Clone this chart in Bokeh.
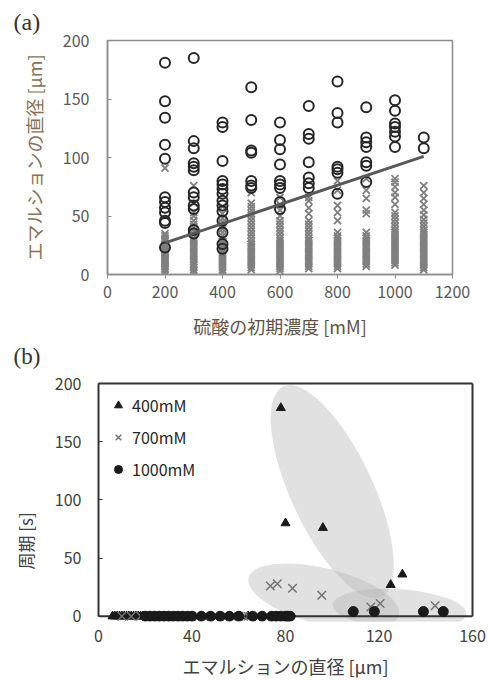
from bokeh.plotting import figure
from bokeh.models import Range1d, FixedTicker, Legend, LegendItem, Title, LinearAxis
from bokeh.embed import file_html
from bokeh.resources import INLINE

# ---------------- panel (a) data ----------------
conc = [200, 300, 400, 500, 600, 700, 800, 900, 1000, 1100]
a_x_ticks = [0, 200, 400, 600, 800, 1000, 1200]
a_y_ticks = [0, 50, 100, 150, 200]

circ_200 = [181, 148, 134, 111, 99, 66, 62, 57, 53, 46, 44, 23]
circ_300 = [185, 114, 108, 95, 92, 89, 70, 66, 59, 56, 38, 35]
circ_400 = [130, 126, 97, 80, 77, 73, 69, 63, 59, 54, 46, 36, 26, 22]
circ_500 = [160, 132, 106, 104, 80, 76, 74]
circ_600 = [130, 115, 107, 94, 80, 77, 74, 62, 56]
circ_700 = [144, 120, 116, 96, 83, 78, 74]
circ_800 = [165, 138, 130, 92, 90, 87, 69]
circ_900 = [143, 117, 113, 109, 96, 93, 79]
circ_1000 = [149, 140, 129, 126, 122, 118, 109]
circ_1100 = [117, 108]

crs_200 = [2, 4, 5, 7, 8, 10, 11, 13, 14, 16, 17, 19, 20, 22, 23, 25, 26, 28, 29, 31, 33, 35, 91]
crs_300 = [2, 4, 6, 8, 9, 11, 13, 15, 17, 19, 21, 23, 25, 27, 29, 31, 34, 37, 40, 43, 46, 50, 53, 61, 76]
crs_400 = [2, 4, 6, 8, 10, 12, 14, 16, 18, 20, 22, 24, 26, 28, 30, 33, 36, 39, 42, 45, 48, 52, 58]
crs_500 = [4, 6, 8, 10, 12, 14, 16, 18, 20, 22, 24, 26, 28, 31, 34, 37, 40, 43, 46, 49, 52, 55, 58, 61, 70]
crs_600 = [3, 5, 7, 9, 11, 13, 15, 17, 19, 21, 23, 25, 27, 29, 31, 34, 37, 40, 43, 46, 50, 55, 60, 66]
crs_700 = [5, 7, 9, 11, 13, 15, 17, 19, 21, 23, 25, 27, 29, 31, 34, 37, 40, 43, 46, 52, 57, 63, 66]
crs_800 = [5, 7, 9, 11, 13, 15, 17, 19, 21, 23, 25, 27, 29, 31, 33, 36, 46, 53, 59, 72, 80]
crs_900 = [7, 9, 11, 13, 15, 17, 19, 21, 23, 25, 27, 29, 31, 33, 36, 52, 55, 65, 72, 82]
crs_1000 = [8, 10, 12, 14, 16, 18, 20, 22, 24, 26, 28, 30, 32, 34, 36, 38, 41, 44, 47, 50, 53, 60, 66, 70, 75, 79, 82]
crs_1100 = [4, 6, 8, 10, 12, 14, 16, 18, 20, 22, 24, 26, 28, 30, 32, 34, 36, 38, 41, 44, 47, 51, 55, 60, 65, 70, 76]

trend_conc = [200, 1100]
trend_diam = [27, 101]

circ_all = [circ_200, circ_300, circ_400, circ_500, circ_600,
            circ_700, circ_800, circ_900, circ_1000, circ_1100]
crs_all = [crs_200, crs_300, crs_400, crs_500, crs_600,
           crs_700, crs_800, crs_900, crs_1000, crs_1100]

# ---------------- panel (b) data ----------------
b_x_ticks = [0, 40, 80, 120, 160]
b_y_ticks = [0, 50, 100, 150, 200]

tri_x = [78, 80, 96, 125, 130]
tri_y = [179, 80, 76, 27, 36]
tri_zero_x = [6, 7, 8, 9, 10, 11, 12, 13, 14, 15, 16, 17, 18, 19, 20, 22, 24,
              26, 28, 30, 33, 36, 40, 44, 48, 52, 56, 60, 64]

cross_x = [73.5, 76.5, 83, 95.5, 116.5, 120.5, 144]
cross_y = [26, 28, 24, 18, 8, 11, 9]
cross_zero_x = [10, 14, 18, 22, 26, 30, 35, 40, 45, 50, 55, 60, 62, 64]

dot_x = [109, 118, 139, 147.5]
dot_y = [4, 4, 4, 4]
dot_zero_x = [20, 22, 24, 26, 28, 30, 32, 34, 36, 38, 40, 44, 48, 52, 56,
              60, 66, 70, 74, 76, 78, 80, 81, 82]

group_x = [100, 96.4, 128.8]
group_y = [107, 17, 6]

FONT = "Noto Sans CJK JP"

# ================= figure (a) =================
pa = figure(width=490, height=370, x_range=Range1d(0, 1200), y_range=Range1d(0, 200),
            output_backend="svg", toolbar_location=None,
            min_border_left=107, min_border_right=38, min_border_top=40, min_border_bottom=96)
pa.grid.visible = False
pa.outline_line_color = "#8c8c8c"
pa.outline_line_width = 1.5

xs_c, ys_c, xs_x, ys_x = [], [], [], []
for c, vals in zip(conc, crs_all):
    xs_x += [c] * len(vals)
    ys_x += vals
for c, vals in zip(conc, circ_all):
    xs_c += [c] * len(vals)
    ys_c += vals

pa.scatter(xs_x, ys_x, marker="x", size=10, line_color="#7f7f7f", line_width=1.8)
pa.scatter(xs_c, ys_c, marker="circle", size=10, fill_color=None,
           line_color="#262626", line_width=2)
pa.line(trend_conc, trend_diam, line_color="#595959", line_width=3)

pa.xaxis.ticker = FixedTicker(ticks=a_x_ticks)
pa.yaxis.ticker = FixedTicker(ticks=a_y_ticks)
for ax in (pa.xaxis, pa.yaxis):
    ax.axis_line_color = "#8c8c8c"
    ax.axis_line_width = 1.5
    ax.major_tick_line_color = "#8c8c8c"
    ax.minor_tick_line_color = None
    ax.major_label_text_font = FONT
    ax.major_label_text_font_size = "16px"
    ax.major_label_text_color = "#595959"
    ax.axis_label_text_font = FONT
    ax.axis_label_text_font_size = "18px"
    ax.axis_label_text_font_style = "normal"
pa.xaxis.major_tick_in = 0
pa.xaxis.major_tick_out = 4
pa.yaxis.major_tick_in = 4
pa.yaxis.major_tick_out = 0
pa.xaxis.major_label_standoff = 7
pa.yaxis.major_label_standoff = 18
pa.xaxis.axis_label = "硫酸の初期濃度 [mM]"
pa.yaxis.axis_label = "エマルションの直径 [μm]"
pa.xaxis.axis_label_text_color = "#5f5248"
pa.yaxis.axis_label_text_color = "#8a6f55"
pa.xaxis.axis_label_standoff = 12
pa.yaxis.axis_label_standoff = 13

pa.title = Title(text="(a)", align="left", offset=-94, standoff=12,
                 text_font="Liberation Serif", text_font_size="24px",
                 text_font_style="normal", text_color="#3b3129")

# panel letter of (b), drawn in the bottom margin of the upper figure
pa.add_layout(Title(text="(b)", align="left", offset=-94, standoff=0,
                    text_font="Liberation Serif", text_font_size="23px",
                    text_font_style="normal", text_color="#333333"), "below")

# ================= figure (b) =================
FRAME_B = "#333333"
pb = figure(width=490, height=311, x_range=Range1d(0, 160), y_range=Range1d(-4.5, 200),
            output_backend="svg", toolbar_location=None,
            min_border_left=97, min_border_right=18, min_border_top=13, min_border_bottom=60)
pb.grid.visible = False
pb.outline_line_color = None
xb = pb.xaxis[0]
yl = pb.yaxis[0]

pb.ellipse(x=group_x, y=group_y, width=[82, 155, 134], height=[232, 56, 40],
           angle=[25, -14, -4], angle_units="deg",
           width_units="screen", height_units="screen",
           fill_color="#b4b4b4", fill_alpha=0.4, line_color=None)

# x-axis line at y = 0
pb.segment(x0=[0], y0=[0], x1=[160], y1=[0], line_color=FRAME_B, line_width=2)

r_tri = pb.scatter(tri_x, tri_y, marker="triangle", size=9, fill_color="#1a1a1a", line_color="#1a1a1a")
pb.scatter(tri_zero_x, [0] * len(tri_zero_x), marker="triangle", size=9,
           fill_color="#1a1a1a", line_color="#1a1a1a")
r_crs = pb.scatter(cross_x, cross_y, marker="x", size=12, line_color="#737373", line_width=1.5)
pb.scatter(cross_zero_x, [0] * len(cross_zero_x), marker="x", size=12,
           line_color="#737373", line_width=1.5)
r_dot = pb.scatter(dot_x, dot_y, marker="circle", size=10, fill_color="#1a1a1a", line_color="#1a1a1a")
pb.scatter(dot_zero_x, [0] * len(dot_zero_x), marker="circle", size=10,
           fill_color="#1a1a1a", line_color="#1a1a1a")

legend = Legend(items=[LegendItem(label="400mM", renderers=[r_tri]),
                       LegendItem(label="700mM", renderers=[r_crs]),
                       LegendItem(label="1000mM", renderers=[r_dot])],
                location="top_left", margin=10, padding=11, spacing=8,
                label_standoff=4, border_line_color=None, background_fill_alpha=0,
                label_text_font=FONT, label_text_font_size="16px",
                label_text_color="#262626")
pb.add_layout(legend)

xb.ticker = FixedTicker(ticks=b_x_ticks)
yl.ticker = FixedTicker(ticks=b_y_ticks)
yl.bounds = (0, 200)
for ax in (xb, yl):
    ax.axis_line_color = FRAME_B
    ax.axis_line_width = 2
    ax.major_tick_line_color = FRAME_B
    ax.minor_tick_line_color = None
    ax.major_label_text_font = FONT
    ax.major_label_text_font_size = "16px"
    ax.major_label_text_color = "#404040"
xb.axis_line_color = None
xb.major_tick_in = 0
xb.major_tick_out = 0
yl.major_tick_in = 4
yl.major_tick_out = 0
xb.major_label_standoff = 8
yl.major_label_standoff = 17
xb.axis_label = "エマルションの直径 [μm]"
xb.axis_label_text_font = FONT
xb.axis_label_text_font_size = "18px"
xb.axis_label_text_font_style = "normal"
xb.axis_label_text_color = "#404040"
xb.axis_label_standoff = 8

# frame lines on top and right (no ticks, no labels)
top_line = LinearAxis(ticker=FixedTicker(ticks=[]), axis_line_color=FRAME_B, axis_line_width=2,
                      major_tick_in=0, major_tick_out=0, minor_tick_line_color=None,
                      major_label_text_font_size="0px", major_label_standoff=0)
right_line = LinearAxis(ticker=FixedTicker(ticks=[]), axis_line_color=FRAME_B, axis_line_width=2,
                        major_tick_in=0, major_tick_out=0, minor_tick_line_color=None,
                        major_label_text_font_size="0px", major_label_standoff=0,
                        bounds=(0, 200))
pb.add_layout(top_line, "above")
pb.add_layout(right_line, "right")

pb.add_layout(Title(text="周期 [s]", align="left", offset=52, standoff=24, vertical_align="top",
                    text_font=FONT, text_font_size="17px",
                    text_font_style="normal", text_color="#404040"), "left")

open("out.html", "w").write(file_html([pa, pb], INLINE))
